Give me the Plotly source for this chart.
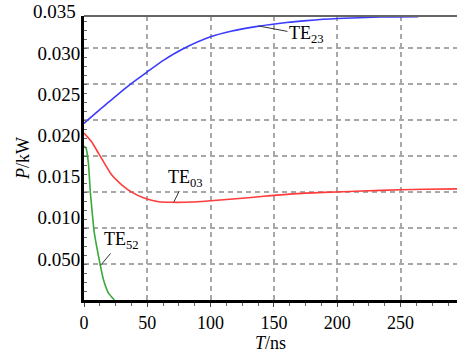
import plotly.graph_objects as go

# ---- data ----
T_te23 = [0, 18, 36, 50, 63, 78, 100, 116, 137, 160, 176, 200, 234, 264]
P_te23 = [0.02146, 0.02385, 0.02615, 0.02773, 0.02915, 0.0305, 0.03198, 0.03265,
          0.03325, 0.03372, 0.03395, 0.03420, 0.03438, 0.03442]

T_te03 = [0, 6, 11.5, 17, 22, 30, 38, 48, 59, 69, 85, 100, 120, 144, 165, 189, 220, 250, 270, 295]
P_te03 = [0.0203, 0.01923, 0.01781, 0.0164, 0.01518, 0.01397, 0.01308, 0.01235, 0.01194,
          0.01187, 0.0119, 0.01206, 0.0123, 0.01263, 0.0129, 0.01308, 0.01324, 0.0134,
          0.01345, 0.0135]

T_te52 = [0, 1.5, 3.5, 5, 6.5, 8, 11.5, 15.5, 19.5, 24]
P_te52 = [0.0187, 0.0185, 0.0166, 0.0131, 0.0106, 0.0083, 0.0053, 0.0024, 0.0008, 0.0]

x_tick_vals = [0, 50, 100, 150, 200, 250]
x_tick_text = ["0", "50", "100", "150", "200", "250"]
y_tick_vals = [0.005, 0.010, 0.015, 0.020, 0.025, 0.030]
y_tick_text = ["0.050", "0.010", "0.015", "0.020", "0.025", "0.030"]
y_top_val = 0.035
y_top_text = "0.035"

labels = ["TE<sub>23</sub>", "TE<sub>03</sub>", "TE<sub>52</sub>"]
label_points_T = [137.8, 70.9, 13]
label_points_P = [0.0333, 0.0119, 0.0042]

X_MAX = 294.6
Y_MAX = 0.03451

FONT = "Liberation Serif"
GRID = "#a8a8a8"

fig = go.Figure()
fig.add_trace(go.Scatter(x=T_te23, y=P_te23, mode="lines",
                         line=dict(color="#3b3bff", width=1.6, shape="spline", smoothing=0.6)))
fig.add_trace(go.Scatter(x=T_te03, y=P_te03, mode="lines",
                         line=dict(color="#ff3b3b", width=1.6, shape="spline", smoothing=0.6)))
fig.add_trace(go.Scatter(x=T_te52, y=P_te52, mode="lines",
                         line=dict(color="#3aa83a", width=1.6, shape="spline", smoothing=0.4)))
# empty trace to carry the grid axis
fig.add_trace(go.Scatter(x=[], y=[], yaxis="y2", hoverinfo="skip"))

ann = []
offsets = [(48, 9), (12, -24), (21, -25)]
for txt, tx, py, (ax, ay) in zip(labels, label_points_T, label_points_P, offsets):
    ann.append(dict(x=tx, y=py, xref="x", yref="y", text=txt, showarrow=True,
                    arrowhead=0, arrowwidth=1, arrowcolor="#333333", ax=ax, ay=ay,
                    font=dict(family=FONT, size=18, color="black")))
ann.append(dict(x=0, y=y_top_val / Y_MAX, xref="paper", yref="y domain", text=y_top_text,
                showarrow=False, xanchor="right", yanchor="middle", xshift=-6,
                font=dict(family=FONT, size=19, color="black")))

fig.update_layout(
    width=457, height=358,
    margin=dict(l=84, r=0, t=16, b=58, autoexpand=False),
    plot_bgcolor="white", paper_bgcolor="white",
    showlegend=False,
    font=dict(family=FONT, size=18, color="black"),
    annotations=ann,
    shapes=[dict(type="line", xref="paper", yref="paper", x0=0, x1=1, y0=1, y1=1,
                 line=dict(color="#666666", width=2))],
    xaxis=dict(range=[0, X_MAX], tickvals=x_tick_vals, ticktext=x_tick_text,
               automargin=False,
               showgrid=True, gridcolor=GRID, gridwidth=1.5, griddash="5px,4px",
               showline=True, linecolor="black", linewidth=3,
               ticks="outside", ticklen=4, tickcolor="#444", tickwidth=1,
               minor=dict(tick0=0, dtick=12.5, ticks="outside", ticklen=3,
                          tickcolor="#666", showgrid=False),
               zeroline=False,
               tickfont=dict(family=FONT, size=18),
               title=dict(text="<i>T</i>/ns", standoff=0, font=dict(family=FONT, size=18))),
    yaxis=dict(range=[0, Y_MAX], tickvals=y_tick_vals, ticktext=y_tick_text,
               automargin=False,
               showgrid=False, showline=True, linecolor="black", linewidth=3,
               ticks="", zeroline=False, ticklabelstandoff=-3,
               tickfont=dict(family=FONT, size=19),
               title=dict(text="<i>P</i>/kW", standoff=4, font=dict(family=FONT, size=18))),
    yaxis2=dict(overlaying="y", side="left", range=[0, 7.889], tick0=0, dtick=1,
                automargin=False,
                showgrid=True, gridcolor=GRID, gridwidth=1.5, griddash="5px,4px",
                showticklabels=False, showline=False, zeroline=False,
                ticks="inside", ticklen=3, tickcolor="#666",
                minor=dict(dtick=0.25, ticks="inside", ticklen=3, tickcolor="#666",
                           showgrid=False)),
)

fig.write_html("out.html", config={"displayModeBar": False},
               post_script="document.body.style.margin='0';")
